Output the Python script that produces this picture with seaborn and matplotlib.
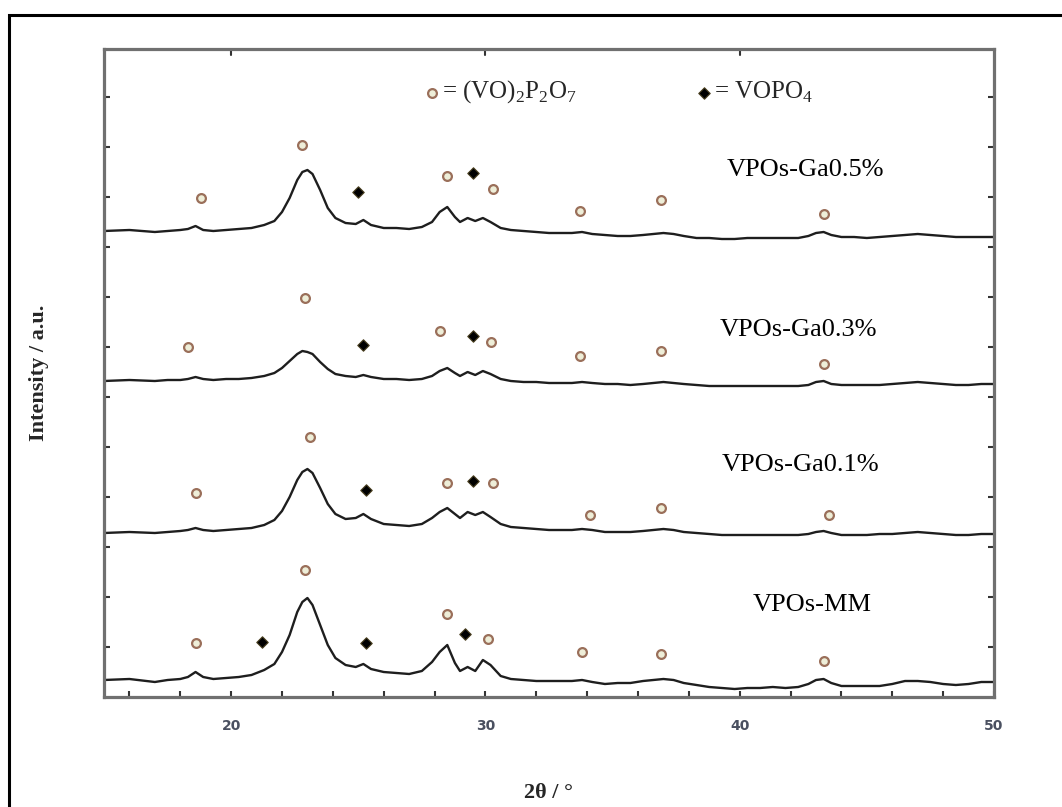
import numpy as np
import pandas as pd
import matplotlib
matplotlib.use("Agg")
import matplotlib.pyplot as plt
from matplotlib.patches import Rectangle
import seaborn as sns

# XRD patterns, 2theta in degrees, intensity in arbitrary units (stacked)
two_theta = [15.0, 16.0, 17.0, 17.5, 18.0, 18.3, 18.6, 18.9, 19.3, 19.8,
             20.3, 20.8, 21.3, 21.7, 22.0, 22.3, 22.6, 22.8, 23.0, 23.2,
             23.5, 23.8, 24.1, 24.5, 24.9, 25.2, 25.5, 26.0, 26.5, 27.0,
             27.5, 27.9, 28.2, 28.5, 28.8, 29.0, 29.3, 29.6, 29.9, 30.2,
             30.6, 31.0, 31.5, 32.0, 32.5, 33.0, 33.4, 33.8, 34.2, 34.7,
             35.2, 35.7, 36.2, 36.6, 37.0, 37.4, 37.8, 38.3, 38.8, 39.3,
             39.8, 40.3, 40.8, 41.3, 41.8, 42.3, 42.7, 43.0, 43.3, 43.6,
             44.0, 44.5, 45.0, 45.5, 46.0, 46.5, 47.0, 47.5, 48.0, 48.5,
             49.0, 49.5, 50.0]

ga05 = [466, 467, 465, 466, 467, 468, 471, 467, 466, 467,
        468, 469, 472, 476, 485, 499, 517, 525, 527, 523,
        507, 489, 479, 474, 473, 477, 472, 469, 469, 468,
        470, 475, 485, 490, 480, 475, 479, 476, 479, 475,
        469, 467, 466, 465, 464, 464, 464, 465, 463, 462,
        461, 461, 462, 463, 464, 463, 461, 459, 459, 458,
        458, 459, 459, 459, 459, 459, 461, 464, 465, 462,
        460, 460, 459, 460, 461, 462, 463, 462, 461, 460,
        460, 460, 460]

ga03 = [316, 317, 316, 317, 317, 318, 320, 318, 317, 318,
        318, 319, 321, 324, 329, 336, 343, 346, 345, 343,
        335, 328, 323, 321, 320, 322, 320, 318, 318, 317,
        318, 321, 326, 329, 324, 321, 325, 322, 326, 323,
        318, 316, 315, 315, 314, 314, 314, 315, 314, 313,
        313, 312, 313, 314, 315, 314, 313, 312, 311, 311,
        311, 311, 311, 311, 311, 311, 312, 315, 316, 313,
        312, 312, 312, 312, 313, 314, 315, 314, 313, 312,
        312, 313, 313]

ga01 = [164, 165, 164, 165, 166, 167, 169, 167, 166, 167,
        168, 169, 172, 177, 186, 200, 217, 225, 228, 224,
        209, 193, 183, 178, 179, 183, 178, 173, 172, 171,
        173, 179, 185, 189, 183, 179, 185, 182, 185, 180,
        173, 170, 169, 168, 167, 167, 167, 168, 167, 165,
        165, 165, 166, 167, 168, 167, 165, 164, 163, 162,
        162, 162, 162, 162, 162, 162, 163, 165, 166, 164,
        162, 162, 162, 163, 163, 164, 165, 164, 163, 162,
        162, 163, 163]

mm = [17, 18, 15, 17, 18, 20, 25, 20, 18, 19,
      20, 22, 27, 33, 45, 62, 85, 95, 99, 92,
      72, 52, 39, 32, 30, 33, 28, 25, 24, 23,
      26, 35, 45, 52, 34, 26, 30, 26, 37, 32,
      21, 18, 17, 16, 16, 16, 16, 17, 15, 13,
      14, 14, 16, 17, 18, 17, 14, 12, 10, 9,
      8, 9, 9, 10, 9, 10, 13, 17, 18, 14,
      11, 11, 11, 11, 13, 16, 16, 15, 13, 12,
      13, 15, 15]

# phase markers: (VO)2P2O7 circles and VOPO4 diamonds
circ_x = [18.8, 22.8, 28.5, 30.3, 33.7, 36.9, 43.3,
          18.3, 22.9, 28.2, 30.2, 33.7, 36.9, 43.3,
          18.6, 23.1, 28.5, 30.3, 34.1, 36.9, 43.5,
          18.6, 22.9, 28.5, 30.1, 33.8, 36.9, 43.3]
circ_y = [499, 552, 521, 508, 486, 497, 483,
          350, 399, 366, 355, 341, 346, 333,
          204, 260, 214, 214, 182, 189, 182,
          54, 127, 83, 58, 45, 43, 36]
diam_x = [25.0, 29.5, 25.2, 29.5, 25.3, 29.5, 21.2, 25.3, 29.2]
diam_y = [505, 524, 352, 361, 207, 216, 55, 54, 63]

labels = ["VPOs-Ga0.5%", "VPOs-Ga0.3%", "VPOs-Ga0.1%", "VPOs-MM"]
label_x = [39.5, 39.2, 39.3, 40.5]
label_y = [527, 367, 232, 92]

sns.set_style("ticks")
plt.rcParams["font.family"] = ["Liberation Serif", "DejaVu Serif"]
plt.rcParams["mathtext.fontset"] = "custom"
plt.rcParams["mathtext.rm"] = "Liberation Serif"

fig = plt.figure(figsize=(10.62, 8.07), dpi=100)
ax = fig.add_axes([104 / 1062, 1 - 697 / 807, 890 / 1062, 648 / 807])

for trace in [ga05, ga03, ga01, mm]:
    sns.lineplot(x=two_theta, y=trace, ax=ax, color="#1e1e1e", linewidth=1.7)

sns.scatterplot(x=circ_x, y=circ_y, ax=ax, marker="o", s=40,
                facecolor="#eeeed8", edgecolor="#9a6f5a", linewidth=1.6, zorder=3)
sns.scatterplot(x=diam_x, y=diam_y, ax=ax, marker="D", s=34,
                color="black", edgecolor="#4a4020", linewidth=0.8, zorder=3)

for lab, lx, ly in zip(labels, label_x, label_y):
    ax.text(lx, ly, lab, fontsize=19, va="center", ha="left", color="black")

# legend drawn in the plot area
ax.scatter([27.9], [604], marker="o", s=40, facecolor="#eeeed8",
           edgecolor="#9a6f5a", linewidth=1.6)
ax.text(28.3, 605, r"= (VO)$_2$P$_2$O$_7$", fontsize=18, va="center")
ax.scatter([38.6], [604], marker="D", s=34, color="black",
           edgecolor="#4a4020", linewidth=0.8)
ax.text(39.0, 605, r"= VOPO$_4$", fontsize=18, va="center")

ax.set_xlim(15, 50)
ax.set_ylim(0, 648)
ax.set_xticks([20, 30, 40, 50])
ax.set_xticks(np.arange(16, 50, 2), minor=True)
ax.set_yticks(np.arange(50, 648, 50))
ax.set_yticklabels([])
ax.tick_params(axis="x", which="both", direction="in", length=4, width=1.5,
               color="#333333", pad=16, labelsize=10, labelcolor="#4a5060")
ax.tick_params(axis="y", which="both", direction="in", length=4, width=1.5,
               color="#333333", left=True, right=True)
for lab in ax.get_xticklabels():
    lab.set_fontfamily("DejaVu Sans")
    lab.set_fontweight("bold")
for x in [20, 30, 40]:
    ax.plot([x, x], [648, 642], color="#333333", lw=1.5, clip_on=False)

for side in ["left", "right", "top", "bottom"]:
    ax.spines[side].set_color("#707070")
    ax.spines[side].set_linewidth(2.3)

ax.set_xlabel("2θ / °", fontsize=16, fontweight="bold", labelpad=36)
ax.set_ylabel("Intensity / a.u.", fontsize=16, fontweight="bold", labelpad=36)

# outer frame of the original figure
fig.add_artist(Rectangle((9 / 1062, -0.2), 1.2, 1.2 - 15 / 807,
                         transform=fig.transFigure, fill=False,
                         edgecolor="black", linewidth=2.2, clip_on=False))

fig.savefig("out.png", dpi=100)
